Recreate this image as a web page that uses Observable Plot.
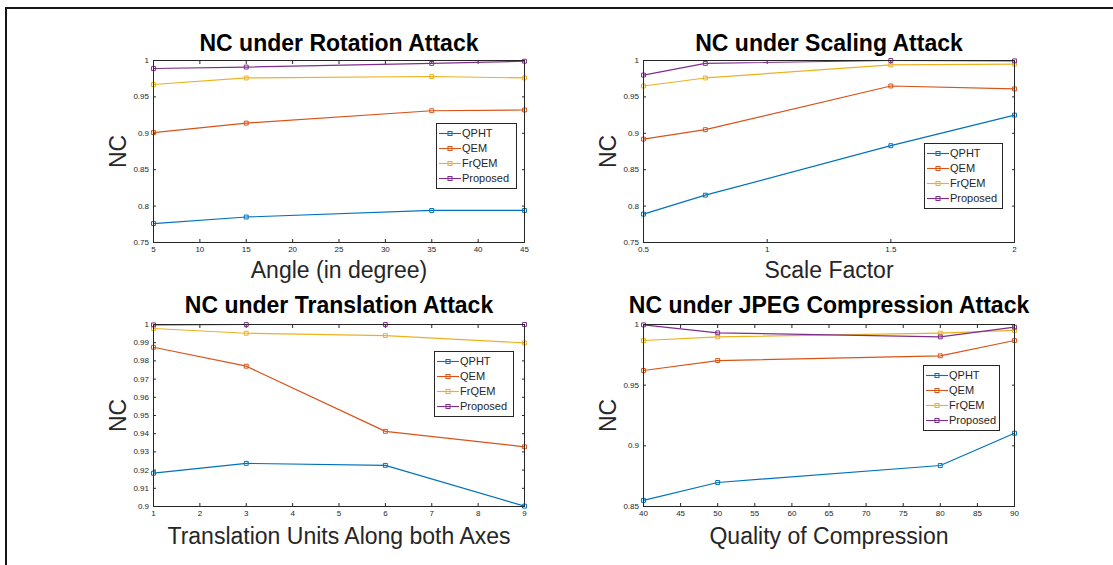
<!DOCTYPE html>
<html><head><meta charset="utf-8">
<script src="https://cdn.jsdelivr.net/npm/d3@7"></script>
<script src="https://cdn.jsdelivr.net/npm/@observablehq/plot@0.6"></script>
<style>
html,body{margin:0;padding:0;background:#fff;}
#page{position:relative;width:1113px;height:565px;overflow:hidden;font-family:"Liberation Sans",Arial,Helvetica,sans-serif;}
#border{position:absolute;left:5px;top:7px;width:1200px;height:700px;border-top:2px solid #161616;border-left:2px solid #161616;}
.panel{position:absolute;}
.legend{position:absolute;border:1px solid #262626;background:#fff;padding:2px 2px 2px 2px;box-sizing:border-box;}
.row{display:flex;align-items:center;height:15px;font-size:11px;color:#262626;white-space:nowrap;line-height:15px;}
.row svg{margin-right:1px;flex:none;}
</style></head><body><div id="page"><div id="border"></div></div>
<script>
// ---- data ----
const seriesNames = ["QPHT", "QEM", "FrQEM", "Proposed"];
const seriesColors = ["#0072BD", "#D95319", "#EDB120", "#7E2F8E"];

// Rotation attack
const rotTitle = "NC under Rotation Attack";
const rotXLabel = "Angle (in degree)";
const rotAngles = [5, 15, 35, 45];
const rotQPHT = [0.776, 0.785, 0.794, 0.794];
const rotQEM = [0.901, 0.914, 0.931, 0.932];
const rotFrQEM = [0.967, 0.976, 0.978, 0.976];
const rotProposed = [0.989, 0.991, 0.996, 0.999];
const rotXTicks = [5, 10, 15, 20, 25, 30, 35, 40, 45];
const rotYTicks = [0.75, 0.8, 0.85, 0.9, 0.95, 1];

// Scaling attack
const scaTitle = "NC under Scaling Attack";
const scaXLabel = "Scale Factor";
const scaFactors = [0.5, 0.75, 1.5, 2];
const scaQPHT = [0.789, 0.815, 0.883, 0.925];
const scaQEM = [0.892, 0.905, 0.965, 0.961];
const scaFrQEM = [0.965, 0.976, 0.994, 0.995];
const scaProposed = [0.980, 0.996, 1.0, 0.9995];
const scaXTicks = [0.5, 1, 1.5, 2];
const scaYTicks = [0.75, 0.8, 0.85, 0.9, 0.95, 1];

// Translation attack
const traTitle = "NC under Translation Attack";
const traXLabel = "Translation Units Along both Axes";
const traUnits = [1, 3, 6, 9];
const traQPHT = [0.9183, 0.9237, 0.9226, 0.9002];
const traQEM = [0.9875, 0.9771, 0.9413, 0.9328];
const traFrQEM = [0.9978, 0.9952, 0.9939, 0.9899];
const traProposed = [0.9998, 1.0, 1.0, 1.0];
const traXTicks = [1, 2, 3, 4, 5, 6, 7, 8, 9];
const traYTicks = [0.9, 0.91, 0.92, 0.93, 0.94, 0.95, 0.96, 0.97, 0.98, 0.99, 1];

// JPEG compression attack
const jpgTitle = "NC under JPEG Compression Attack";
const jpgXLabel = "Quality of Compression";
const jpgQuality = [40, 50, 80, 90];
const jpgQPHT = [0.855, 0.8698, 0.8838, 0.9104];
const jpgQEM = [0.9621, 0.9703, 0.9742, 0.9868];
const jpgFrQEM = [0.9868, 0.9898, 0.9929, 0.9951];
const jpgProposed = [0.9997, 0.9931, 0.9898, 0.9978];
const jpgXTicks = [40, 45, 50, 55, 60, 65, 70, 75, 80, 85, 90];
const jpgYTicks = [0.85, 0.9, 0.95, 1];

const yLabel = "NC";

// ---- layout ----
const panels = [
  {title: rotTitle, xLabel: rotXLabel, x: rotAngles, values: [rotQPHT, rotQEM, rotFrQEM, rotProposed], xTicks: rotXTicks, yTicks: rotYTicks,
   left: 90, top: 15, titleDy: -17, xLabelDy: 28, legend: {left: 436, top: 123, width: 81}},
  {title: scaTitle, xLabel: scaXLabel, x: scaFactors, values: [scaQPHT, scaQEM, scaFrQEM, scaProposed], xTicks: scaXTicks, yTicks: scaYTicks,
   left: 580, top: 15, titleDy: -17, xLabelDy: 28, legend: {left: 924, top: 143, width: 79}},
  {title: traTitle, xLabel: traXLabel, x: traUnits, values: [traQPHT, traQEM, traFrQEM, traProposed], xTicks: traXTicks, yTicks: traYTicks,
   left: 90, top: 279, titleDy: -19, xLabelDy: 30, legend: {left: 434, top: 351, width: 80}},
  {title: jpgTitle, xLabel: jpgXLabel, x: jpgQuality, values: [jpgQPHT, jpgQEM, jpgFrQEM, jpgProposed], xTicks: jpgXTicks, yTicks: jpgYTicks,
   left: 580, top: 279, titleDy: -19, xLabelDy: 30, legend: {left: 923, top: 365, width: 77}}
];

const page = document.getElementById("page");
const ink = "#262626";

for (const cfg of panels) {
  const rows = [];
  cfg.values.forEach((vals, si) => vals.forEach((v, i) => rows.push({series: seriesNames[si], x: cfg.x[i], y: v})));
  const svg = Plot.plot({
    width: 450, height: 275,
    marginLeft: 63, marginRight: 16, marginTop: 45, marginBottom: 48,
    style: {fontSize: "8px", fontFamily: "'Liberation Sans', Arial, Helvetica, sans-serif", color: ink, background: "transparent", overflow: "visible"},
    x: {domain: d3.extent(cfg.xTicks)},
    y: {domain: d3.extent(cfg.yTicks)},
    color: {domain: seriesNames, range: seriesColors},
    marks: [
      Plot.axisX(cfg.xTicks, {anchor: "bottom", tickSize: -3, tickPadding: 7, tickFormat: d => String(d), label: null, stroke: ink, fill: ink}),
      Plot.axisX(cfg.xTicks, {anchor: "top", tickSize: -3, fill: "none", label: null, stroke: ink}),
      Plot.axisY(cfg.yTicks, {anchor: "left", tickSize: -3, tickPadding: 7.5, tickFormat: d => String(d), label: null, stroke: ink, fill: ink}),
      Plot.axisY(cfg.yTicks, {anchor: "right", tickSize: -3, fill: "none", label: null, stroke: ink}),
      Plot.line(rows, {x: "x", y: "y", stroke: "series", z: "series", strokeWidth: 1.2}),
      Plot.dot(rows, {x: "x", y: "y", stroke: "series", symbol: "square", r: 2.2, fill: "none", strokeWidth: 1}),
      Plot.frame({stroke: ink, strokeWidth: 1}),
      Plot.text([cfg.title], {text: d => d, frameAnchor: "top", dy: cfg.titleDy, fontSize: 23, fontWeight: "bold", fill: "#000", lineAnchor: "middle", textAnchor: "middle"}),
      Plot.text([cfg.xLabel], {text: d => d, frameAnchor: "bottom", dy: cfg.xLabelDy, fontSize: 23, fill: ink, lineAnchor: "middle", textAnchor: "middle"}),
      Plot.text([yLabel], {text: d => d, frameAnchor: "left", dx: -35, rotate: -90, fontSize: 23, fill: ink, lineAnchor: "middle", textAnchor: "middle"})
    ]
  });
  const wrap = document.createElement("div");
  wrap.className = "panel";
  wrap.style.left = cfg.left + "px";
  wrap.style.top = cfg.top + "px";
  wrap.appendChild(svg);
  page.appendChild(wrap);

  // legend
  const lg = document.createElement("div");
  lg.className = "legend";
  lg.style.left = cfg.legend.left + "px";
  lg.style.top = cfg.legend.top + "px";
  lg.style.width = cfg.legend.width + "px";
  seriesNames.forEach((name, i) => {
    const row = document.createElement("div");
    row.className = "row";
    const sw = d3.create("svg").attr("width", 22).attr("height", 15);
    sw.append("line").attr("x1", 0).attr("x2", 22).attr("y1", 7.5).attr("y2", 7.5).attr("stroke", seriesColors[i]).attr("stroke-width", 1.1);
    sw.append("rect").attr("x", 9).attr("y", 5.5).attr("width", 4).attr("height", 4).attr("fill", "none").attr("stroke", seriesColors[i]);
    row.appendChild(sw.node());
    const t = document.createElement("span");
    t.textContent = name;
    row.appendChild(t);
    lg.appendChild(row);
  });
  page.appendChild(lg);
}
</script></body></html>
